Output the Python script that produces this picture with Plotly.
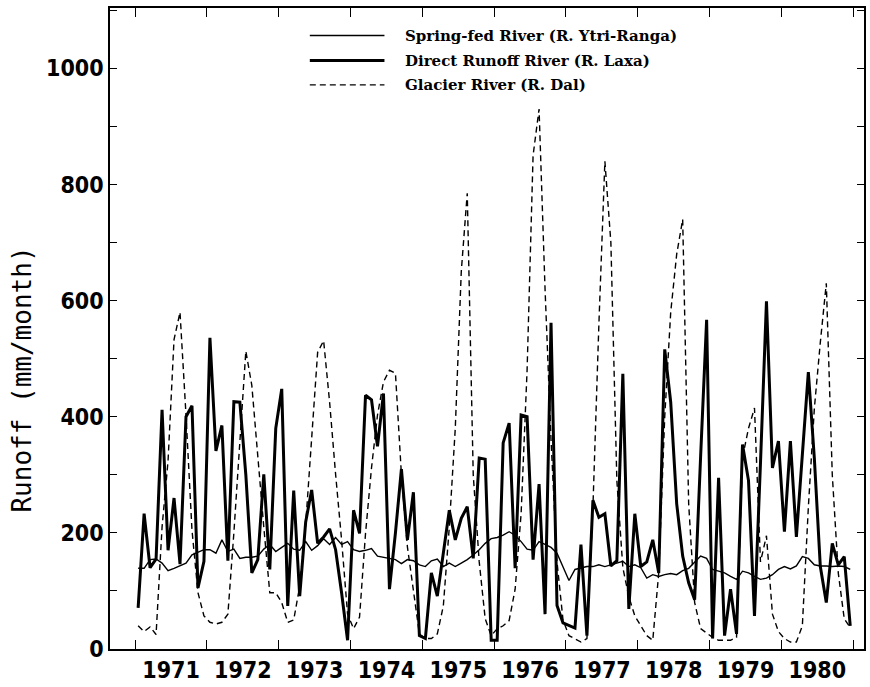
import plotly.graph_objects as go

years = list(range(1971, 1981))
month_index = list(range(12))

spring_fed = [
    139, 139, 154, 155, 148, 135, 139, 143, 148, 162, 166, 171,
    171, 165, 188, 168, 172, 156, 158, 158, 160, 172, 180, 168,
    175, 182, 172, 170, 185, 170, 178, 190, 180, 192, 180, 185,
    171, 168, 170, 173, 160, 158, 156, 154, 147, 154, 152, 145,
    142, 152, 155, 142, 148, 142, 148, 154, 162, 171, 182, 190,
    192, 196, 202, 196, 185, 172, 170, 185, 180, 175, 165, 140,
    118, 137, 139, 142, 142, 145, 142, 145, 148, 151, 142, 145,
    140, 122, 128, 125, 128, 130, 128, 135, 139, 150, 160, 156,
    137, 134, 131, 125, 120, 134, 131, 125, 120, 122, 128, 137,
    142, 138, 143, 159, 156, 145, 143, 143, 142, 143, 142, 137,
]

direct_runoff = [
    71, 233, 140, 155, 412, 170, 260, 146, 400, 419, 105, 151,
    536, 341, 385, 152, 426, 425, 300, 131, 154, 301, 137, 380,
    448, 74, 273, 91, 219, 274, 182, 193, 207, 171, 97, 15,
    239, 199, 437, 429, 349, 440, 103, 200, 310, 188, 270, 23,
    18, 131, 91, 170, 239, 188, 225, 245, 156, 329, 327, 15,
    15, 355, 389, 139, 403, 400, 154, 284, 60, 562, 75, 45,
    40, 36, 180, 23, 256, 227, 233, 143, 152, 474, 69, 233,
    142, 150, 188, 131, 516, 425, 250, 160, 114, 85, 332, 567,
    18, 295, 23, 103, 26, 352, 290, 57, 320, 599, 312, 358,
    202, 358, 193, 335, 477, 329, 142, 80, 182, 145, 159, 40,
]

glacier = [
    40, 30, 38, 25, 210, 324, 533, 580, 403, 205, 97, 57,
    46, 43, 46, 60, 200, 360, 513, 454, 324, 210, 97, 97,
    80, 46, 50, 108, 215, 358, 511, 531, 425, 301, 188, 60,
    35, 55, 199, 312, 403, 460, 480, 475, 300, 176, 97, 26,
    18, 18, 26, 74, 210, 380, 650, 785, 300, 150, 52, 23,
    35, 40, 49, 103, 233, 480, 850, 930, 620, 360, 150, 50,
    23, 18, 12, 18, 244, 560, 840, 700, 290, 140, 90, 57,
    40, 23, 15, 131, 400, 580, 680, 740, 250, 80, 35, 28,
    20, 15, 15, 15, 20, 330, 380, 415, 150, 195, 60, 30,
    18, 12, 12, 40, 244, 414, 528, 630, 300, 131, 52, 37,
]

series_names = [
    "Spring-fed River (R. Ytri-Ranga)",
    "Direct Runoff River (R. Laxa)",
    "Glacier River (R. Dal)",
]
year_labels = [str(y) for y in years]
y_title = "Runoff (mm/month)"

x = [y + (m + 0.5) / 12 for y in years for m in month_index]

fig = go.Figure()
fig.add_trace(go.Scatter(x=x, y=spring_fed, mode="lines", name=series_names[0],
                         line=dict(color="black", width=1.4)))
fig.add_trace(go.Scatter(x=x, y=direct_runoff, mode="lines", name=series_names[1],
                         line=dict(color="black", width=3)))
fig.add_trace(go.Scatter(x=x, y=glacier, mode="lines", name=series_names[2],
                         line=dict(color="black", width=1.4, dash="6px,4px")))

# manual legend
legend_y = [0.957, 0.918, 0.880]
styles = [dict(width=1.4), dict(width=3), dict(width=1.4, dash="6px,4px")]
for name, yy, st in zip(series_names, legend_y, styles):
    fig.add_shape(type="line", xref="paper", yref="paper", x0=0.265, x1=0.364,
                  y0=yy, y1=yy, line=dict(color="black", **st))
    fig.add_annotation(xref="paper", yref="paper", x=0.388, y=yy, xanchor="left",
                       yanchor="middle", showarrow=False, text="<b>" + name + "</b>",
                       font=dict(family="DejaVu Serif", size=15, color="black"))

# y-axis title placed as in the reference (slightly below centre)
fig.add_annotation(xref="paper", yref="paper", x=-0.117, y=0.42, xanchor="center",
                   yanchor="middle", showarrow=False, textangle=-90, text=y_title,
                   font=dict(family="DejaVu Sans Mono", size=26, color="black"))

tick_font = dict(family="Liberation Sans Narrow, DejaVu Sans Condensed", size=23, color="black")

fig.update_layout(
    width=870, height=687,
    margin=dict(l=110, r=4, t=8, b=30),
    paper_bgcolor="white", plot_bgcolor="white",
    showlegend=False,
    xaxis=dict(
        range=[1970.65, 1981.15],
        tickvals=[y + 0.5 for y in years], ticktext=["<b>" + t + "</b>" for t in year_labels],
        ticks="inside", ticklen=0,
        minor=dict(tick0=1971, dtick=1, ticks="inside", ticklen=9, tickcolor="black", tickwidth=1.3),
        showline=True, linecolor="black", linewidth=1.6, mirror="ticks",
        showgrid=False, zeroline=False, tickfont=tick_font,
    ),
    yaxis=dict(
        range=[0, 1104], tick0=0, dtick=200,
        ticks="inside", ticklen=7, tickcolor="black", tickwidth=1.3,
        minor=dict(dtick=100, ticks="inside", ticklen=7, tickcolor="black", tickwidth=1.3),
        showline=True, linecolor="black", linewidth=1.6, mirror="ticks",
        showgrid=False, zeroline=False,
        tickfont=tick_font, tickprefix="<b>", ticksuffix="</b>",
    ),
)

fig.write_html("out.html")
